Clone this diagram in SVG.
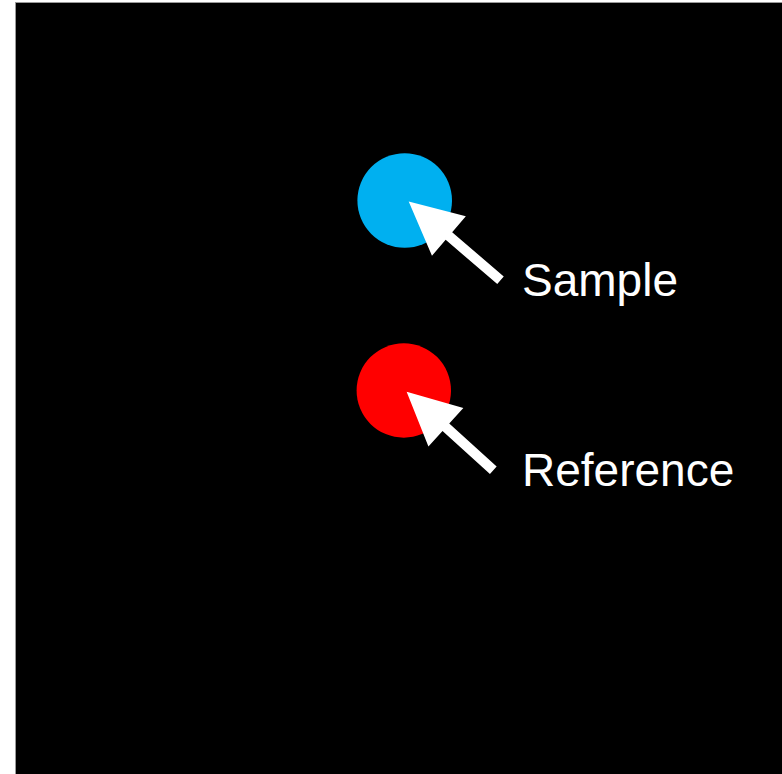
<svg xmlns="http://www.w3.org/2000/svg" width="782" height="774" viewBox="0 0 782 774">
<style>
.lbl{font-family:"Liberation Sans",Arial,sans-serif;font-size:46px;fill:#ffffff}
.arr{fill:#ffffff}
</style>
<rect x="0" y="0" width="782" height="774" fill="#ffffff"/>
<rect x="15.5" y="2.5" width="767" height="772" fill="#000000" stroke="#9a9a9a" stroke-width="1"/>
<g id="sample">
<circle cx="404.7" cy="200.5" r="47.3" fill="#00b0f0"/>
<text class="lbl" x="522" y="296">Sample</text>
</g>
<g id="reference">
<circle cx="403.8" cy="390.5" r="47.2" fill="#ff0000"/>
<text class="lbl" x="522" y="486">Reference</text>
</g>
<g id="connectors">
<polygon class="arr" transform="translate(500.5,280.3) rotate(220.65)" points="0,-5 68,-5 68,-26 121,0 68,26 68,5 0,5"/>
<polygon class="arr" transform="translate(493.3,470.3) rotate(222.2)" points="0,-5 64,-5 64,-26 117,0 64,26 64,5 0,5"/>
</g>
</svg>
